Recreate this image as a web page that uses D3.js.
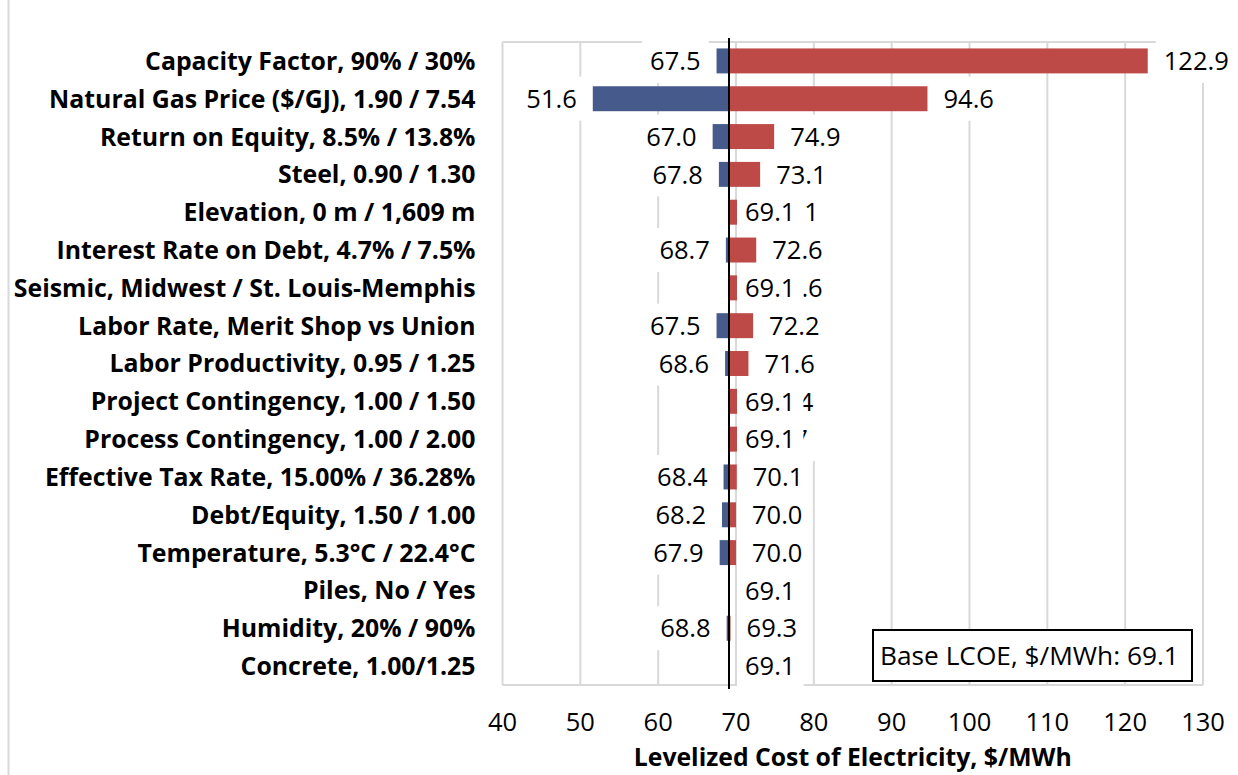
<!DOCTYPE html>
<meta charset="utf-8">
<style>
    body { margin: 0; background: #fff; }
    text { fill: #000; font-family: "Open Sans", sans-serif; }
    .grid line { stroke: #d9d9d9; stroke-width: 2; }
    .cat { font-weight: bold; }
    .title { font-weight: bold; }
</style>
<body>
<script src="https://cdn.jsdelivr.net/npm/d3@7"></script>
<script>

    // factors, top to bottom
    var categories = [
        "Capacity Factor, 90% / 30%",
        "Natural Gas Price ($/GJ), 1.90 / 7.54",
        "Return on Equity, 8.5% / 13.8%",
        "Steel, 0.90 / 1.30",
        "Elevation, 0 m / 1,609 m",
        "Interest Rate on Debt, 4.7% / 7.5%",
        "Seismic, Midwest / St. Louis-Memphis",
        "Labor Rate, Merit Shop vs Union",
        "Labor Productivity, 0.95 / 1.25",
        "Project Contingency, 1.00 / 1.50",
        "Process Contingency, 1.00 / 2.00",
        "Effective Tax Rate, 15.00% / 36.28%",
        "Debt/Equity, 1.50 / 1.00",
        "Temperature, 5.3°C / 22.4°C",
        "Piles, No / Yes",
        "Humidity, 20% / 90%",
        "Concrete, 1.00/1.25"
    ];
    var lowValues  = [67.5, 51.6, 67.0, 67.8, 69.1, 68.7, 69.1, 67.5, 68.6, 69.1, 69.1, 68.4, 68.2, 67.9, 69.1, 68.8, 69.1];
    var highValues = [122.9, 94.6, 74.9, 73.1, 72.1, 72.6, 72.6, 72.2, 71.6, 71.4, 70.7, 70.1, 70.0, 70.0, 69.14, 69.3, 69.1];
    var baseValue = 69.1;
    var xTicks = [40, 50, 60, 70, 80, 90, 100, 110, 120, 130];
    var xTitle = "Levelized Cost of Electricity, $/MWh";
    var baseNote = "Base LCOE, $/MWh: 69.1";

    var W = 1238, H = 775;
    var margin = {top: 42, right: 35, bottom: 90, left: 502.5};
    var width = W - margin.left - margin.right,
        height = H - margin.top - margin.bottom;

    var blue = "#475a8c", red = "#be4a48";
    var labelSize = 25.5, pad = 8, gap = 8, boxH = 44;

    var svg = d3.select("body").append("svg")
        .attr("width", W)
        .attr("height", H);

    // outer chart border (left edge only visible)
    svg.append("line")
        .attr("x1", 8.5).attr("x2", 8.5)
        .attr("y1", 0).attr("y2", H)
        .attr("stroke", "#d9d9d9").attr("stroke-width", 2);

    var g = svg.append("g")
        .attr("transform", "translate(" + margin.left + "," + margin.top + ")");

    var x = d3.scaleLinear().domain([40, 130]).range([0, width]);
    var y = d3.scaleBand().domain(categories).range([0, height])
        .paddingInner(0.34).paddingOuter(0.17);

    // grid + plot border
    var grid = g.append("g").attr("class", "grid");
    grid.selectAll("line.v").data(xTicks).enter().append("line")
        .attr("class", "v")
        .attr("x1", d => x(d)).attr("x2", d => x(d))
        .attr("y1", 0).attr("y2", height);
    grid.selectAll("line.h").data([0, height]).enter().append("line")
        .attr("class", "h")
        .attr("x1", 0).attr("x2", width)
        .attr("y1", d => d).attr("y2", d => d);

    var rows = categories.map(function(c, i) {
        return {cat: c, low: lowValues[i], high: highValues[i]};
    });

    // bars
    g.selectAll("rect.low").data(rows).enter().append("rect")
        .attr("class", "low")
        .attr("x", d => x(Math.min(d.low, baseValue)))
        .attr("width", d => Math.abs(x(baseValue) - x(d.low)))
        .attr("y", d => y(d.cat))
        .attr("height", y.bandwidth())
        .attr("fill", blue);

    g.selectAll("rect.high").data(rows).enter().append("rect")
        .attr("class", "high")
        .attr("x", x(baseValue))
        .attr("width", d => Math.max(0, x(d.high) - x(baseValue)))
        .attr("y", d => y(d.cat))
        .attr("height", y.bandwidth())
        .attr("fill", red);

    // base line
    g.append("line")
        .attr("x1", x(baseValue)).attr("x2", x(baseValue))
        .attr("y1", -4).attr("y2", height + 4)
        .attr("stroke", "#000").attr("stroke-width", 2);

    // data labels with white boxes
    function addLabel(parent, text, xEdge, side, cy) {
        var lg = parent.append("g");
        var box = lg.append("rect").attr("fill", "#fff");
        var t = lg.append("text")
            .attr("y", cy)
            .attr("dy", "0.36em")
            .style("font-size", labelSize + "px")
            .text(text);
        var w = t.node().getComputedTextLength();
        var bx = side > 0 ? xEdge + gap : xEdge - gap - w - 2 * pad;
        t.attr("x", bx + pad);
        box.attr("x", bx).attr("width", w + 2 * pad)
            .attr("y", cy - boxH / 2).attr("height", boxH);
    }

    var labels = g.append("g");
    rows.forEach(function(d) {
        var cy = y(d.cat) + y.bandwidth() / 2;
        addLabel(labels, d.high.toFixed(1), x(Math.max(d.high, baseValue)), 1, cy);
    });
    rows.forEach(function(d) {
        var cy = y(d.cat) + y.bandwidth() / 2;
        if (d.low < baseValue) addLabel(labels, d.low.toFixed(1), x(d.low), -1, cy);
        else addLabel(labels, d.low.toFixed(1), x(baseValue), 1, cy);
    });

    // category labels, fitted to the left margin
    var cats = g.append("g").selectAll("text").data(categories).enter().append("text")
        .attr("class", "cat")
        .attr("x", -27)
        .attr("y", d => y(d) + y.bandwidth() / 2)
        .attr("dy", "0.36em")
        .attr("text-anchor", "end")
        .style("font-size", "20px")
        .text(d => d);
    var maxW = d3.max(cats.nodes(), n => n.getComputedTextLength());
    cats.style("font-size", (20 * 462 / maxW) + "px");

    // x tick labels
    g.append("g").selectAll("text").data(xTicks).enter().append("text")
        .attr("x", d => x(d))
        .attr("y", height + 37)
        .attr("dy", "0.36em")
        .attr("text-anchor", "middle")
        .style("font-size", labelSize + "px")
        .text(d => d);

    // axis title
    var title = g.append("text")
        .attr("class", "title")
        .attr("x", width / 2)
        .attr("y", height + 72)
        .attr("dy", "0.36em")
        .attr("text-anchor", "middle")
        .style("font-size", "20px")
        .text(xTitle);
    title.style("font-size", (20 * 438 / title.node().getComputedTextLength()) + "px");

    // base value note
    var note = svg.append("g");
    var noteRect = note.append("rect")
        .attr("x", 873).attr("y", 630)
        .attr("width", 319).attr("height", 51)
        .attr("fill", "#fff").attr("stroke", "#000").attr("stroke-width", 2);
    var noteText = note.append("text")
        .attr("x", 880).attr("y", 655.5)
        .attr("dy", "0.36em")
        .style("font-size", "20px")
        .text(baseNote);
    noteText.style("font-size", (20 * 299 / noteText.node().getComputedTextLength()) + "px");

</script>
</body>
